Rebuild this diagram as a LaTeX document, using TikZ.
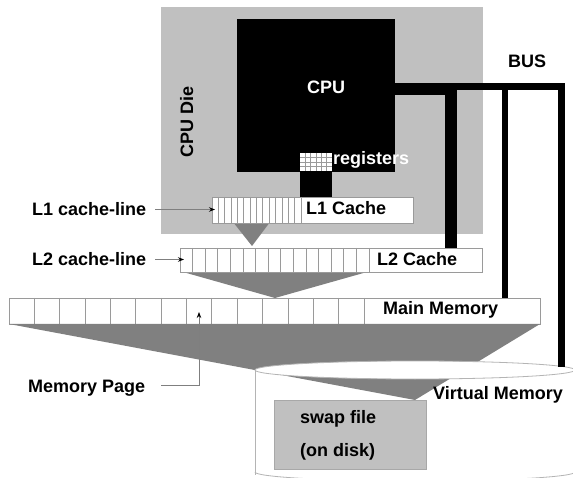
\documentclass[tikz,border=0pt]{standalone}
\usepackage{fontspec}
\setmainfont{Liberation Sans}
\usetikzlibrary{arrows.meta}
\definecolor{diegray}{HTML}{C0C0C0}
\definecolor{fungray}{HTML}{808080}
\definecolor{cellgray}{HTML}{9A9A9A}
\definecolor{ptrgray}{HTML}{7F7F7F}
\definecolor{cylgray}{HTML}{B4B4B4}
\definecolor{swapedge}{HTML}{A8A8A8}
\begin{document}
\begin{tikzpicture}[x=1pt,y=-1pt,line join=miter,
  lbl/.style={inner sep=0pt,anchor=base west,text height=13pt,text depth=0pt,font=\fontsize{18}{20}\selectfont\bfseries},
  blk/.style={inner sep=0pt,outer sep=0pt,anchor=north west},
  rowbox/.style={blk,draw=cellgray,fill=white,line width=0.8pt},
  cellline/.style={draw=cellgray,line width=0.8pt},
  regline/.style={draw=cellgray,line width=0.5pt},
  ptr/.style={draw=ptrgray,line width=0.8pt,-{Stealth[length=6pt,width=4.5pt,color=black]}},
  funnel/.style={fill=fungray},
  cyl/.style={draw=cylgray,line width=0.8pt}]
\useasboundingbox (0,0) rectangle (573,478);
\fill[white] (0,0) rectangle (573,478);
% CPU die and CPU
\node[blk,fill=diegray,minimum width=322pt,minimum height=227pt] (die) at (161,7) {};
\node[blk,fill=black,minimum width=158pt,minimum height=153pt] (cpu) at (237,19) {};
% registers
\node[blk,fill=white,minimum width=32pt,minimum height=18pt] (reg) at (300,153) {};
\foreach \i in {1,...,5} \draw[regline] ({300+\i*32/6},153) -- ++(0,18);
\foreach \j in {1,2,3} \draw[regline] (300,{153+\j*4.5}) -- ++(32,0);
\node[blk,fill=black,minimum width=32pt,minimum height=26pt] (regconn) at (300,171) {};
% L1 -> L2 funnel
\fill[fungray] (233,222) -- (270,222) -- (252,246) -- cycle;
% L1 cache
\node[rowbox,minimum width=201pt,minimum height=26pt] (l1row) at (212,197) {};
\foreach \i in {1,...,14} \draw[cellline] ({212+\i*89/14},197) -- ++(0,26);
% L2 -> main funnel
\fill[fungray] (183,272) -- (367,272) -- (275,298) -- cycle;
% L2 cache
\node[rowbox,minimum width=302pt,minimum height=24pt] (l2row) at (180,248) {};
\foreach \i in {1,...,15} \draw[cellline] ({180+\i*189/15},248) -- ++(0,24);
% main memory
\node[rowbox,minimum width=531pt,minimum height=26pt] (mainrow) at (9,298) {};
\foreach \i in {1,...,14} \draw[cellline] ({9+\i*355/14},298) -- ++(0,26);
% main -> swap funnel
\fill[fungray] (9,324) -- (540,324) -- (415,400) -- cycle;
% virtual memory cylinder
\draw[cyl,fill=white] (415,370) ellipse [x radius=160pt,y radius=9pt];
\draw[cyl] (255,370) -- (255,475);
\draw[cyl] (255,472) arc[start angle=180,end angle=360,x radius=160pt,y radius=9pt];
% swap file
\node[blk,fill=diegray,draw=swapedge,line width=0.8pt,minimum width=152pt,minimum height=69pt] (swap) at (274,400) {};
% bus
\coordinate (cpuout) at ([yshift=-70pt]cpu.north east);
\coordinate (b1) at (451,89);
\draw[line width=12pt] (cpuout) -- (b1) -- (b1 |- l2row.north);
\coordinate (bt0) at (451,86.5);
\coordinate (bt2) at (505,86.5);
\coordinate (bt3) at (561.5,86.5);
\coordinate (vmtop) at (561.5,366.5);
\draw[line width=7pt] (bt0) -- (bt3) -- (vmtop);
\draw[line width=6pt] (bt2) -- (bt2 |- mainrow.north);
% labels
\node[lbl,text=white] (cputxt) at (307,94) {CPU};
\node[lbl,text=white] (regtxt) at (333,165) {registers};
\node[lbl,rotate=90] (dietxt) at (193,158) {CPU Die};
\node[lbl] (bus) at (508,68) {BUS};
\node[lbl] (l1txt) at (306,215) {L1 Cache};
\node[lbl] (l2txt) at (377,266) {L2 Cache};
\node[lbl] (maintxt) at (383,315) {Main Memory};
\node[lbl] (vmtxt) at (433,399) {Virtual Memory};
\node[lbl] (swap1) at (300,423) {swap file};
\node[lbl] (swap2) at (300,456) {(on disk)};
\node[lbl] (l1cl) at (32,216) {L1 cache-line};
\node[lbl] (l2cl) at (32,266) {L2 cache-line};
\node[lbl] (mp) at (28,392) {Memory Page};
% pointers
\coordinate (l1tip) at ([xshift=3pt]l1row.west);
\coordinate (l2tip) at ([xshift=4pt]l2row.west);
\draw[ptr] ([xshift=9pt]l1cl.east) -- (l1tip |- l1cl.east);
\draw[ptr] ([xshift=9pt]l2cl.east) -- (l2tip |- l2cl.east);
\coordinate (mptip) at (199,312);
\draw[ptr] ([xshift=16pt]mp.east) -- (mptip |- mp.east) -- (mptip);
\end{tikzpicture}
\end{document}
